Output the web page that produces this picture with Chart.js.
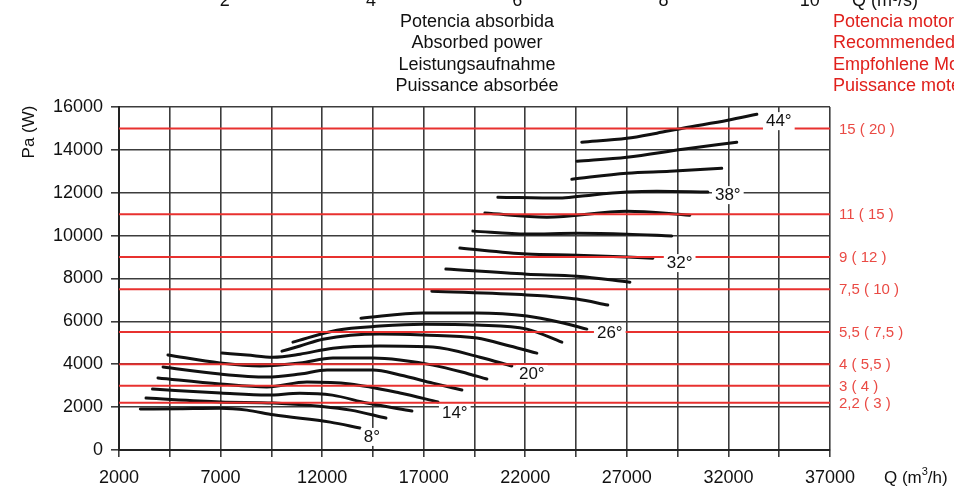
<!DOCTYPE html>
<html>
<head>
<meta charset="utf-8">
<script src="https://cdn.jsdelivr.net/npm/chart.js@4.4.1/dist/chart.umd.min.js"></script>
<style>
  html, body { margin: 0; padding: 0; background: #fff; overflow: hidden; }
  #chart { display: block; }
</style>
</head>
<body>
<canvas id="chart" width="954" height="489"></canvas>
<script>
// absorbed power per blade angle, points are [Q m3/h, Pa W]
const a08 = [[3050, 1910], [5000, 1930], [7000, 1950], [8300, 1860], [9600, 1640], [12400, 1300], [13860, 1030]];
const a10 = [[3330, 2420], [7000, 2240], [9600, 2190], [12000, 2030], [13400, 1860], [15140, 1490]];
const a12 = [[3650, 2840], [7000, 2660], [9300, 2560], [10900, 2650], [12500, 2560], [14200, 2190], [16420, 1820]];
const a14 = [[3920, 3360], [6970, 3080], [9280, 2940], [11250, 3170], [13370, 3080], [15830, 2660], [17700, 2240]];
const a16 = [[4170, 3870], [6970, 3540], [9280, 3400], [10910, 3540], [12240, 3730], [14500, 3730], [15830, 3500], [17450, 3120], [18880, 2800]];
const a18 = [[4410, 4430], [6970, 4060], [8940, 3920], [10910, 4060], [12530, 4290], [14500, 4290], [15830, 4200], [17450, 3960], [18880, 3640], [20110, 3310]];
const a20 = [[7070, 4520], [8300, 4430], [9580, 4330], [10910, 4470], [12530, 4750], [14840, 4850], [17450, 4800], [19770, 4330], [21340, 3920]];
const a22 = [[10020, 4610], [10910, 4850], [12040, 5170], [14840, 5410], [16960, 5360], [19620, 5220], [21240, 4850], [22570, 4520]];
const a24 = [[10560, 5030], [12730, 5590], [14840, 5780], [16960, 5870], [19620, 5830], [22080, 5640], [23800, 5030]];
const a26 = [[13910, 6150], [16960, 6390], [19620, 6390], [22080, 6250], [23700, 5960], [25030, 5640]];
const a28 = [[17400, 7410], [22080, 7230], [23700, 7130], [24540, 7040], [26060, 6760]];
const a30 = [[18090, 8440], [22080, 8200], [24540, 8110], [27150, 7830]];
const a32 = [[18780, 9420], [22080, 9140], [24540, 9090], [28280, 8950]];
const a34 = [[19420, 10210], [22080, 10070], [24540, 10110], [27000, 10070], [29210, 9980]];
const a36 = [[20010, 11050], [23060, 10860], [27000, 11140], [30100, 10950]];
const a38 = [[20650, 11790], [23700, 11750], [24690, 11840], [27000, 12030], [28480, 12070], [30990, 12030]];
const a40 = [[24290, 12630], [27000, 12910], [29120, 13000], [31670, 13140]];
const a42 = [[24540, 13470], [27000, 13660], [29750, 14030], [32410, 14360]];
const a44 = [[24780, 14360], [27000, 14540], [28480, 14780], [29750, 15010], [31970, 15380], [33400, 15660]];

const angles = [8, 10, 12, 14, 16, 18, 20, 22, 24, 26, 28, 30, 32, 34, 36, 38, 40, 42, 44];
const curves = [a08, a10, a12, a14, a16, a18, a20, a22, a24, a26, a28, a30, a32, a34, a36, a38, a40, a42, a44];

// labelled curves and where the label sits (Q, Pa)
const angleLabels = ["8°", "14°", "20°", "26°", "32°", "38°", "44°"];
const angleLabelQ = [14450, 18530, 22320, 26160, 29600, 31970, 34480];
const angleLabelPa = [610, 1720, 3540, 5450, 8720, 11890, 15340];

// recommended motor power lines, kW ( HP )
const motorPa = [15000, 11000, 9000, 7500, 5500, 4000, 3000, 2200];
const motorLabels = ["15 ( 20 )", "11 ( 15 )", "9 ( 12 )", "7,5 ( 10 )", "5,5 ( 7,5 )", "4 ( 5,5 )", "3 ( 4 )", "2,2 ( 3 )"];

// secondary top axis, m3/s
const topTicks = [2, 4, 6, 8, 10];

const titleLines = ["Potencia absorbida", "Absorbed power", "Leistungsaufnahme", "Puissance absorbée"];
const motorTitleLines = ["Potencia motor recomendada", "Recommended motor power", "Empfohlene Motorleistung", "Puissance moteur conseillée"];

const FONT = "Liberation Sans, Arial, sans-serif";
const RED = "#e8312f";
const RED_TEXT = "#ea4a44";

const datasets = [];
motorPa.forEach((pa) => {
  datasets.push({
    data: [{ x: 2000, y: pa }, { x: 37000, y: pa }],
    borderColor: RED,
    borderWidth: 2,
    pointRadius: 0
  });
});
curves.forEach((c, i) => {
  datasets.push({
    label: angles[i] + "°",
    data: c.map(p => ({ x: p[0], y: p[1] })),
    borderColor: "#111",
    borderWidth: 3,
    pointRadius: 0,
    cubicInterpolationMode: "monotone",
    borderCapStyle: "round"
  });
});

const decor = {
  id: "decor",
  afterDatasetsDraw(chart) {
    const { ctx, scales: { x, y } } = chart;
    ctx.save();
    ctx.font = "17px " + FONT;
    ctx.textAlign = "center";
    ctx.textBaseline = "middle";
    angleLabels.forEach((t, i) => {
      const px = x.getPixelForValue(angleLabelQ[i]);
      const py = y.getPixelForValue(angleLabelPa[i]);
      const w = ctx.measureText(t).width + 6;
      ctx.fillStyle = "#fff";
      ctx.fillRect(px - w / 2, py - 9, w, 18);
      ctx.fillStyle = "#111";
      ctx.fillText(t, px, py);
    });
    ctx.restore();
  },
  afterDraw(chart) {
    const { ctx, scales: { x, y } } = chart;
    ctx.save();
    // motor labels
    ctx.font = "15px " + FONT;
    ctx.fillStyle = RED_TEXT;
    ctx.textAlign = "left";
    ctx.textBaseline = "middle";
    motorPa.forEach((pa, i) => {
      ctx.fillText(motorLabels[i], 839, y.getPixelForValue(pa) + 1);
    });
    // header blocks
    ctx.font = "18px " + FONT;
    ctx.textAlign = "center";
    ctx.fillStyle = "#111";
    titleLines.forEach((t, i) => ctx.fillText(t, 477, 22 + i * 21.3));
    ctx.textAlign = "left";
    ctx.fillStyle = "#e0201c";
    motorTitleLines.forEach((t, i) => ctx.fillText(t, 833, 22 + i * 21.3));
    // cut-off top axis
    ctx.font = "18px " + FONT;
    ctx.fillStyle = "#111";
    ctx.textAlign = "center";
    ctx.textBaseline = "alphabetic";
    topTicks.forEach(v => ctx.fillText(String(v), x.getPixelForValue(v * 3600), 6));
    ctx.textAlign = "left";
    ctx.fillText("Q (m³/s)", 852, 6);
    // axis titles
    ctx.font = "17px " + FONT;
    ctx.textBaseline = "middle";
    ctx.fillText("Q (m", 884, 478);
    const w = ctx.measureText("Q (m").width;
    ctx.font = "11px " + FONT;
    ctx.fillText("3", 884 + w, 472);
    ctx.font = "17px " + FONT;
    ctx.fillText("/h)", 884 + w + 6, 478);
    ctx.translate(29, 132);
    ctx.rotate(-Math.PI / 2);
    ctx.textAlign = "center";
    ctx.fillText("Pa (W)", 0, 0);
    ctx.restore();
  }
};

new Chart(document.getElementById("chart"), {
  type: "line",
  data: { datasets },
  options: {
    responsive: false,
    animation: false,
    events: [],
    layout: { padding: { top: 107, left: 0, right: 124, bottom: 0 } },
    plugins: { legend: { display: false }, tooltip: { enabled: false }, title: { display: false } },
    scales: {
      x: {
        type: "linear",
        min: 2000,
        max: 37000,
        afterFit: (s) => { s.height = 39; },
        afterBuildTicks: (s) => {
          const t = [];
          for (let v = 2000; v <= 37000; v += 2500) t.push({ value: v });
          s.ticks = t;
        },
        ticks: {
          autoSkip: false,
          maxRotation: 0,
          padding: 10,
          color: "#111",
          font: { family: FONT, size: 18 },
          callback: (v) => ((v - 2000) % 5000 === 0 ? String(v) : "")
        },
        grid: { color: "#3c3c3c", lineWidth: 1.6, tickLength: 7 },
        border: { color: "#222", width: 2 }
      },
      y: {
        min: 0,
        max: 16000,
        afterFit: (s) => { s.width = 119; },
        ticks: {
          stepSize: 2000,
          padding: 8,
          color: "#111",
          font: { family: FONT, size: 18 },
          callback: (v) => String(v)
        },
        grid: { color: "#3c3c3c", lineWidth: 1.6, tickLength: 8 },
        border: { color: "#222", width: 2 }
      }
    }
  },
  plugins: [decor]
});
</script>
</body>
</html>
